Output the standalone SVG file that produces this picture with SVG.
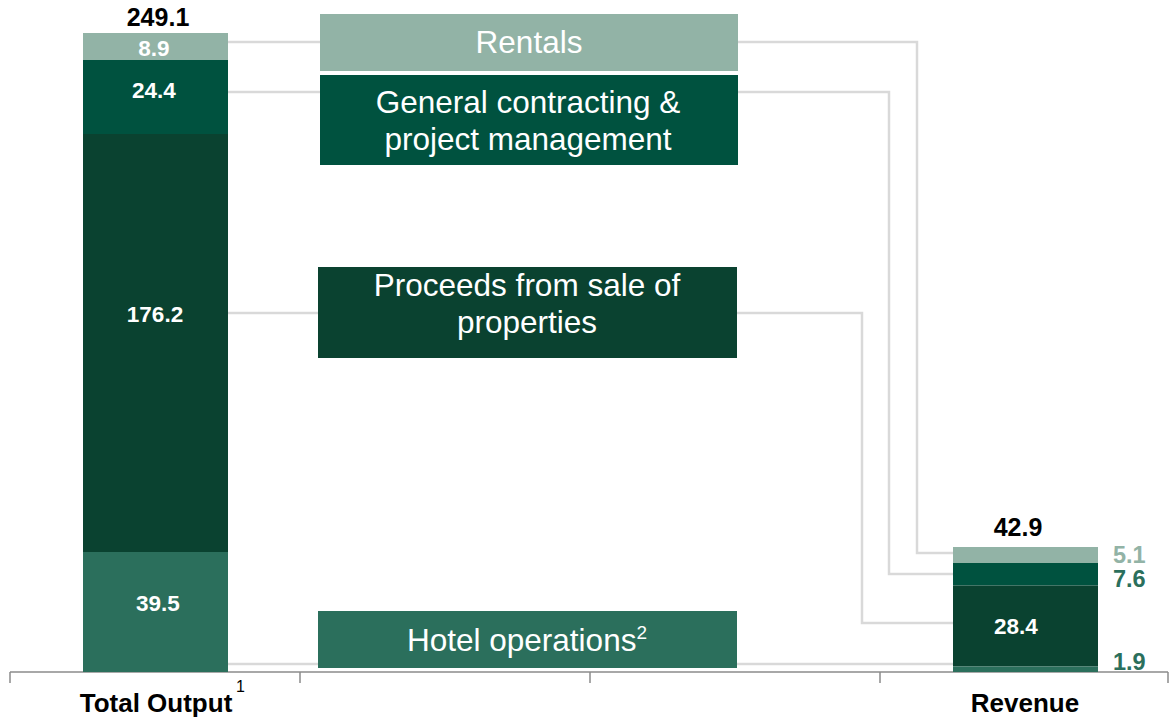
<svg xmlns="http://www.w3.org/2000/svg" width="1170" height="717" viewBox="0 0 1170 717">
<style>
.c1{fill:#92b3a6}.c2{fill:#00523f}.c3{fill:#0a4230}.c4{fill:#2b6f5c}
.conn{fill:none;stroke:#d9d9d9;stroke-width:2.5}
.axis{fill:none;stroke:#8c8c8c;stroke-width:1.5}
.v{font-family:"Liberation Sans",Arial,sans-serif;font-weight:bold;font-size:22.5px;fill:#fff;text-anchor:middle}
.tot{font-family:"Liberation Sans",Arial,sans-serif;font-weight:bold;font-size:25px;fill:#000;text-anchor:middle}
.lab{font-family:"Liberation Sans",Arial,sans-serif;font-weight:bold;font-size:26px;fill:#000;text-anchor:middle}
.side{font-family:"Liberation Sans",Arial,sans-serif;font-weight:bold;font-size:23.5px}
.bx{font-family:"Liberation Sans",Arial,sans-serif;font-size:31.5px;fill:#fff;text-anchor:middle}
.sup{font-family:"Liberation Sans",Arial,sans-serif;font-size:16px;fill:#000}
</style>
<g id="connectors">
<path class="conn" d="M228,42 H917 V553 H953"/>
<path class="conn" d="M228,92 H889 V574 H953"/>
<path class="conn" d="M228,313 H862 V623 H953"/>
<path class="conn" d="M228,664 H953"/>
</g>
<g id="axis">
<path class="axis" d="M10,672 H1168 M10,672 V683 M300,672 V683 M590,672 V683 M880,672 V683 M1168,672 V683"/>
</g>
<g id="bar-total">
<rect class="c1" x="83" y="33" width="145" height="27"/>
<rect class="c2" x="83" y="60" width="145" height="74"/>
<rect class="c3" x="83" y="134" width="145" height="418"/>
<rect class="c4" x="83" y="552" width="145" height="120"/>
<text class="tot" x="158" y="26">249.1</text>
<text class="v" x="154" y="56">8.9</text>
<text class="v" x="154" y="98">24.4</text>
<text class="v" x="155" y="322">176.2</text>
<text class="v" x="158" y="611">39.5</text>
</g>
<g id="bar-revenue">
<rect class="c1" x="953" y="547" width="145" height="16"/>
<rect class="c2" x="953" y="563" width="145" height="22.5"/>
<rect class="c3" x="953" y="585.5" width="145" height="81"/>
<rect class="c4" x="953" y="666.5" width="145" height="5.5"/>
<text class="tot" x="1018" y="536">42.9</text>
<text class="v" x="1016" y="634">28.4</text>
<text class="side" x="1113" y="563" fill="#92b3a6">5.1</text>
<text class="side" x="1113" y="587" fill="#2b6f5c">7.6</text>
<text class="side" x="1113" y="670" fill="#2b6f5c">1.9</text>
</g>
<g id="box-rentals">
<rect class="c1" x="320" y="14" width="418" height="57"/>
<text class="bx" x="529" y="53">Rentals</text>
</g>
<g id="box-general">
<rect class="c2" x="320" y="75" width="418" height="90"/>
<text class="bx" x="528" y="113">General contracting &amp;</text>
<text class="bx" x="528" y="150">project management</text>
</g>
<g id="box-proceeds">
<rect class="c3" x="318" y="267" width="419" height="91"/>
<text class="bx" x="527" y="296">Proceeds from sale of</text>
<text class="bx" x="527" y="333">properties</text>
</g>
<g id="box-hotel">
<rect class="c4" x="318" y="611" width="419" height="57"/>
<text class="bx" x="527" y="651">Hotel operations<tspan font-size="19" dy="-12">2</tspan></text>
</g>
<g id="labels">
<text class="lab" x="156" y="712">Total Output</text>
<text class="sup" x="236" y="692">1</text>
<text class="lab" x="1025" y="712">Revenue</text>
</g>
</svg>
